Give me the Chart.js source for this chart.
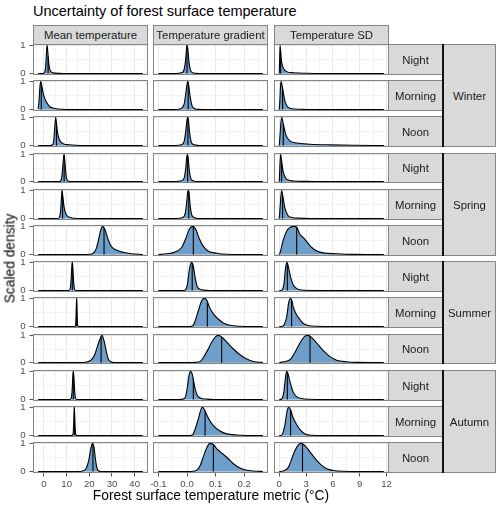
<!DOCTYPE html>
<html>
<head>
<meta charset="utf-8">
<script src="https://cdn.jsdelivr.net/npm/chart.js@4.4.1/dist/chart.umd.min.js"></script>
<style>
  body { margin: 0; background: #fff; font-family: "Liberation Sans", Arial, sans-serif; }
  #fig { position: relative; width: 500px; height: 510px; overflow: hidden; }
  #fig canvas { position: absolute; }
  .strip { position: absolute; box-sizing: border-box; background: #d9d9d9; border: 1px solid #858585;
           display: flex; align-items: center; justify-content: center; font-size: 11.4px; color: #1a1a1a; }
  .txt { position: absolute; white-space: nowrap; color: #000; font-weight: normal; }
</style>
</head>
<body>
<div id="fig"></div>
<script>
// facets
const metrics = ['Mean temperature', 'Temperature gradient', 'Temperature SD'];
const seasons = ['Winter', 'Spring', 'Summer', 'Autumn'];
const times = ['Night', 'Morning', 'Noon'];

// tick labels
const meanTicks = [0, 10, 20, 30, 40];
const meanMinor = [5, 15, 25, 35, 45];
const gradTicks = [-0.1, 0, 0.1, 0.2];
const gradMinor = [-0.05, 0.05, 0.15, 0.25];
const sdTicks = [0, 3, 6, 9, 12];
const sdMinor = [1.5, 4.5, 7.5, 10.5];
const densTicks = [0, 1];
const densMinor = [0.5];

// scaled density curves [x, y], rows: Winter Night..Autumn Noon
const meanCurves = [
  [[-2.55,0],[-0.5,0.005],[0.3,0.05],[0.8,0.3],[1.1,0.75],[1.35,1],[1.6,0.85],[1.9,0.55],[2.3,0.25],[2.8,0.1],[3.5,0.04],[5,0.015],[8,0.005],[12,0],[43.6,0]],
  [[-2.55,0.02],[-2.2,0.3],[-1.8,0.8],[-1.45,1],[-1.0,0.85],[-0.4,0.6],[0.3,0.4],[1.2,0.25],[2.6,0.1],[4.8,0.04],[8,0.01],[12,0],[43.6,0]],
  [[-2.55,0],[2.5,0],[3.8,0.03],[4.4,0.25],[4.8,0.7],[5.15,1],[5.5,0.8],[6.0,0.45],[6.6,0.25],[7.5,0.12],[8.7,0.06],[11,0.03],[14,0.01],[18,0],[43.6,0]],
  [[-2.55,0],[6.5,0],[7.4,0.03],[7.9,0.2],[8.4,0.65],[8.85,1],[9.3,0.65],[9.8,0.2],[10.4,0.04],[11.5,0.005],[14,0],[43.6,0]],
  [[-2.55,0],[5.8,0],[6.8,0.04],[7.4,0.35],[7.75,0.8],[7.95,1],[8.3,0.8],[8.8,0.45],[9.4,0.22],[10.2,0.1],[11.5,0.04],[13.5,0.01],[17,0],[43.6,0]],
  [[-2.55,0],[18,0],[20,0.01],[21.6,0.04],[23.1,0.22],[24.1,0.54],[25.0,0.85],[25.9,1],[27.1,0.85],[28.3,0.54],[29.7,0.29],[31.9,0.16],[34.9,0.08],[38.5,0.03],[43.6,0.005]],
  [[-2.55,0],[10.5,0],[11.4,0.03],[11.9,0.3],[12.25,0.8],[12.5,1],[12.75,0.8],[13.1,0.3],[13.6,0.03],[14.5,0],[43.6,0]],
  [[-2.55,0],[13.5,0],[13.95,0.05],[14.2,0.5],[14.4,1],[14.6,0.5],[14.85,0.05],[15.3,0],[43.6,0]],
  [[-2.55,0],[16,0],[18.7,0.02],[20.9,0.1],[22.4,0.3],[23.8,0.65],[25.0,0.92],[25.6,1],[26.5,0.8],[27.4,0.45],[28.3,0.14],[29.5,0.03],[31,0],[43.6,0]],
  [[-2.55,0],[11,0],[11.9,0.03],[12.4,0.3],[12.7,0.8],[12.95,1],[13.2,0.8],[13.55,0.3],[14.0,0.03],[15,0],[43.6,0]],
  [[-2.55,0],[12.2,0],[12.8,0.04],[13.1,0.4],[13.4,1],[13.7,0.4],[14.0,0.04],[14.6,0],[43.6,0]],
  [[-2.55,0],[15,0],[17,0.02],[18.5,0.1],[19.7,0.38],[20.6,0.78],[21.4,1],[22.1,0.85],[22.7,0.45],[23.3,0.15],[24.0,0.03],[25,0.005],[27,0],[43.6,0]]
];
const meanMedians = [1.8, -1.2, 5.5, 8.9, 8.2, 26.5, 12.5, 14.4, 25.2, 12.95, 13.4, 21.6];
const meanMedianTops = [0.6, 0.95, 0.85, 0.98, 0.8, 0.95, 1, 1, 0.96, 1, 1, 0.98];

const gradCurves = [
  [[-0.1,0],[-0.04,0.005],[-0.02,0.03],[-0.011,0.12],[-0.006,0.4],[-0.002,0.85],[0,1],[0.003,0.85],[0.007,0.4],[0.012,0.12],[0.02,0.03],[0.035,0.005],[0.06,0],[0.265,0]],
  [[-0.1,0],[-0.04,0.005],[-0.02,0.04],[-0.01,0.2],[-0.004,0.6],[0,0.9],[0.0025,1],[0.006,0.85],[0.011,0.45],[0.017,0.15],[0.025,0.04],[0.04,0.008],[0.07,0],[0.265,0]],
  [[-0.1,0],[-0.04,0.005],[-0.02,0.03],[-0.01,0.15],[-0.004,0.55],[0,0.92],[0.0025,1],[0.005,0.9],[0.009,0.45],[0.014,0.15],[0.022,0.04],[0.04,0.005],[0.07,0],[0.265,0]],
  [[-0.1,0],[-0.04,0.005],[-0.02,0.03],[-0.01,0.14],[-0.005,0.45],[-0.001,0.9],[0.001,1],[0.004,0.85],[0.008,0.4],[0.013,0.12],[0.021,0.03],[0.035,0.005],[0.06,0],[0.265,0]],
  [[-0.1,0],[-0.04,0.005],[-0.015,0.04],[-0.006,0.2],[-0.001,0.6],[0.002,0.92],[0.0045,1],[0.007,0.9],[0.011,0.45],[0.016,0.15],[0.024,0.04],[0.04,0.005],[0.07,0],[0.265,0]],
  [[-0.1,0],[-0.083,0.02],[-0.048,0.07],[-0.019,0.25],[-0.004,0.58],[0.008,0.9],[0.02,1],[0.031,0.89],[0.043,0.56],[0.057,0.29],[0.075,0.12],[0.104,0.05],[0.14,0.01],[0.18,0],[0.265,0]],
  [[-0.1,0],[-0.02,0],[-0.007,0.01],[0.001,0.2],[0.008,0.74],[0.015,1],[0.022,0.87],[0.028,0.47],[0.036,0.14],[0.046,0.04],[0.075,0.005],[0.11,0],[0.265,0]],
  [[-0.1,0],[0,0],[0.01,0.005],[0.02,0.03],[0.028,0.19],[0.04,0.58],[0.051,0.92],[0.06,1],[0.069,0.94],[0.078,0.7],[0.092,0.45],[0.11,0.26],[0.127,0.13],[0.15,0.05],[0.185,0.01],[0.22,0],[0.265,0]],
  [[-0.1,0],[0,0],[0.03,0.01],[0.046,0.04],[0.057,0.19],[0.071,0.44],[0.086,0.75],[0.101,0.96],[0.11,1],[0.121,0.94],[0.139,0.75],[0.162,0.5],[0.185,0.29],[0.209,0.13],[0.232,0.04],[0.265,0.01]],
  [[-0.1,0],[-0.03,0],[-0.009,0.04],[-0.001,0.3],[0.006,0.81],[0.012,1],[0.019,0.87],[0.026,0.49],[0.034,0.19],[0.046,0.06],[0.069,0.015],[0.1,0.003],[0.14,0],[0.265,0]],
  [[-0.1,0],[0,0],[0.01,0.005],[0.02,0.03],[0.028,0.22],[0.04,0.61],[0.049,0.94],[0.055,1],[0.063,0.87],[0.075,0.61],[0.092,0.35],[0.115,0.16],[0.139,0.06],[0.174,0.02],[0.21,0.005],[0.265,0]],
  [[-0.1,0],[0,0],[0.02,0.01],[0.034,0.05],[0.046,0.22],[0.057,0.53],[0.069,0.85],[0.08,1],[0.092,0.96],[0.104,0.81],[0.121,0.66],[0.139,0.51],[0.162,0.28],[0.185,0.13],[0.209,0.05],[0.244,0.01],[0.265,0.005]]
];
const gradMedians = [0, 0.004, 0.003, 0.002, 0.006, 0.022, 0.018, 0.071, 0.121, 0.022, 0.063, 0.092];
const gradMedianTops = [1, 0.97, 0.99, 0.98, 0.97, 1, 0.97, 0.9, 0.94, 0.75, 0.87, 0.96];

const sdCurves = [
  [[0,0],[0.04,0.5],[0.09,1],[0.19,0.6],[0.3,0.35],[0.45,0.2],[0.82,0.07],[1.57,0.03],[3,0.01],[5,0],[11.7,0]],
  [[0,0],[0.06,0.3],[0.19,1],[0.37,0.75],[0.63,0.3],[1.0,0.08],[1.75,0.02],[3,0.005],[5,0],[11.7,0]],
  [[0,0],[0.08,0.35],[0.26,1],[0.45,0.77],[0.75,0.37],[1.2,0.17],[1.95,0.09],[3.44,0.05],[5.68,0.025],[8.3,0.01],[11.7,0.003]],
  [[0,0],[0.05,0.4],[0.15,1],[0.28,0.7],[0.45,0.35],[0.7,0.13],[1.0,0.06],[1.6,0.025],[3,0.008],[5,0],[11.7,0]],
  [[0,0],[0.08,0.35],[0.26,1],[0.42,0.75],[0.65,0.35],[0.95,0.12],[1.4,0.04],[2.2,0.015],[4,0.003],[6,0],[11.7,0]],
  [[0,0],[0.1,0.08],[0.45,0.52],[0.83,0.84],[1.2,0.96],[1.65,1],[1.95,0.97],[2.3,0.72],[2.7,0.6],[3.1,0.45],[3.6,0.26],[4.2,0.13],[4.9,0.06],[6.4,0.03],[8.3,0.008],[11.7,0]],
  [[0,0],[0.27,0.01],[0.53,0.25],[0.72,0.85],[0.87,1],[1.05,0.8],[1.27,0.47],[1.57,0.2],[1.94,0.07],[2.5,0.02],[4,0.005],[6,0],[11.7,0]],
  [[0,0],[0.3,0.005],[0.53,0.06],[0.83,0.34],[1.05,0.84],[1.27,1],[1.42,0.9],[1.57,0.69],[1.87,0.46],[2.24,0.28],[2.69,0.11],[3.25,0.04],[4.19,0.01],[6,0],[11.7,0]],
  [[0,0],[0.45,0.03],[1.2,0.11],[1.76,0.38],[2.32,0.72],[2.88,0.97],[3.25,1],[3.63,0.92],[4.19,0.72],[4.93,0.44],[5.68,0.22],[6.42,0.09],[7.54,0.03],[8.66,0.008],[11.7,0]],
  [[0,0],[0.27,0.02],[0.53,0.31],[0.68,0.75],[0.83,1],[1.01,0.88],[1.2,0.63],[1.5,0.31],[1.87,0.12],[2.5,0.04],[3.44,0.01],[5,0],[11.7,0]],
  [[0,0],[0.2,0.005],[0.37,0.06],[0.63,0.37],[0.9,0.91],[1.08,1],[1.27,0.91],[1.5,0.67],[1.87,0.43],[2.32,0.21],[2.88,0.06],[3.63,0.01],[5,0],[11.7,0]],
  [[0,0],[0.45,0.02],[1.01,0.15],[1.39,0.45],[1.76,0.75],[2.13,0.95],[2.43,1],[2.69,0.97],[3.07,0.85],[3.63,0.62],[4.19,0.4],[4.75,0.22],[5.31,0.1],[6.06,0.04],[7.18,0.01],[9,0],[11.7,0]]
];
const sdMedians = [0.15, 0.37, 0.45, 0.26, 0.37, 1.95, 0.9, 1.38, 3.44, 0.9, 1.27, 2.6];
const sdMedianTops = [0.8, 0.75, 0.77, 0.76, 0.85, 0.97, 0.98, 0.93, 0.97, 0.95, 0.91, 0.98];

const columns = [
  { curves: meanCurves, medians: meanMedians, tops: meanMedianTops, min: -4.85, max: 45.9, major: meanTicks, minor: meanMinor, fmt: v => String(v) },
  { curves: gradCurves, medians: gradMedians, tops: gradMedianTops, min: -0.119, max: 0.283, major: gradTicks, minor: gradMinor, fmt: v => v.toFixed(1) },
  { curves: sdCurves, medians: sdMedians, tops: sdMedianTops, min: -0.59, max: 12.28, major: sdTicks, minor: sdMinor, fmt: v => String(v) }
];

Chart.defaults.font.family = '"Liberation Sans", Arial, sans-serif';

const FILL = 'rgb(110,158,202)';
const FRAME = '#858585';
const GRID_MAJOR = '#e8e8e8';
const GRID_MINOR = '#f3f3f3';
const TICK_TXT = '#4d4d4d';
const TICK_MARK = '#555555';

// panel boxes
const colLeft = c => Math.round(32.5 + c * 120.7);
const colRight = c => Math.round(147.7 + c * 120.7);
const rowTop = r => Math.round(44 + r * 36.21);
const rowBottom = r => Math.round(74.71 + r * 36.21);

const fig = document.getElementById('fig');

// draws the grey panel border on top
const frame = {
  id: 'frame',
  afterDraw(chart) {
    const { left, top, right, bottom } = chart.chartArea;
    const g = chart.ctx;
    g.save();
    g.strokeStyle = FRAME;
    g.lineWidth = 1;
    g.strokeRect(left + 0.5, top + 0.5, right - left - 1, bottom - top - 1);
    g.restore();
  }
};

function makePanel(r, c) {
  const col = columns[c];
  const showY = c === 0, showX = r === 11;
  const AX = 20;
  const m = {
    l: showY ? AX : (showX ? 10 : 0),
    r: showX ? 10 : 0,
    t: showY ? 6 : 0,
    b: showX ? AX : (showY ? 6 : 0)
  };
  const w = colRight(c) - colLeft(c), h = rowBottom(r) - rowTop(r);
  const cv = document.createElement('canvas');
  cv.width = w + m.l + m.r;
  cv.height = h + m.t + m.b;
  cv.style.left = (colLeft(c) - m.l) + 'px';
  cv.style.top = (rowTop(r) - m.t) + 'px';
  cv.style.width = cv.width + 'px';
  cv.style.height = cv.height + 'px';
  fig.appendChild(cv);

  const xAll = col.major.concat(col.minor).filter(v => v >= col.min && v <= col.max);
  const yAll = densTicks.concat(densMinor);

  new Chart(cv, {
    type: 'line',
    data: {
      datasets: [
        {
          // median line, drawn on top of the filled curve
          order: 0,
          data: [{ x: col.medians[r], y: 0 }, { x: col.medians[r], y: col.tops[r] }],
          borderColor: '#000', borderWidth: 1.1, pointRadius: 0, fill: false, tension: 0
        },
        {
          order: 1,
          data: col.curves[r].map(p => ({ x: p[0], y: p[1] })),
          borderColor: '#000', borderWidth: 1.1, backgroundColor: FILL,
          fill: 'origin', pointRadius: 0, cubicInterpolationMode: 'monotone'
        }
      ]
    },
    options: {
      responsive: false, animation: false, events: [],
      layout: { padding: { left: m.l - (showY ? AX : 0), right: m.r, top: m.t, bottom: m.b - (showX ? AX : 0) } },
      plugins: { legend: { display: false }, tooltip: { enabled: false } },
      scales: {
        x: {
          type: 'linear', min: col.min, max: col.max,
          afterBuildTicks: s => { s.ticks = xAll.map(v => ({ value: v })); },
          afterFit: s => { s.height = showX ? AX : 0; s.paddingLeft = 0; s.paddingRight = 0; s.paddingTop = 0; s.paddingBottom = 0; },
          border: { display: false },
          grid: {
            color: ctx => col.major.includes(ctx.tick.value) ? GRID_MAJOR : GRID_MINOR,
            drawTicks: showX, tickLength: 3.5,
            tickColor: ctx => col.major.includes(ctx.tick.value) ? TICK_MARK : 'rgba(0,0,0,0)'
          },
          ticks: {
            display: showX, autoSkip: false, maxRotation: 0, padding: 2,
            color: TICK_TXT, font: { size: 9.6 },
            callback: v => col.major.includes(v) ? col.fmt(v) : ''
          }
        },
        y: {
          type: 'linear', min: -0.05, max: 1.05,
          afterBuildTicks: s => { s.ticks = yAll.map(v => ({ value: v })); },
          afterFit: s => { s.width = showY ? AX : 0; s.paddingLeft = 0; s.paddingRight = 0; s.paddingTop = 0; s.paddingBottom = 0; },
          border: { display: false },
          grid: {
            color: ctx => densTicks.includes(ctx.tick.value) ? GRID_MAJOR : GRID_MINOR,
            drawTicks: showY, tickLength: 3.5,
            tickColor: ctx => densTicks.includes(ctx.tick.value) ? TICK_MARK : 'rgba(0,0,0,0)'
          },
          ticks: {
            display: showY, autoSkip: false, padding: 4,
            color: TICK_TXT, font: { size: 9.6 },
            callback: v => densTicks.includes(v) ? String(v) : ''
          }
        }
      }
    },
    plugins: [frame]
  });
}

for (let r = 0; r < 12; r++) for (let c = 0; c < 3; c++) makePanel(r, c);

function box(cls, left, top, width, height, text) {
  const d = document.createElement('div');
  d.className = cls;
  Object.assign(d.style, { left: left + 'px', top: top + 'px', width: width + 'px', height: height + 'px' });
  if (text) d.textContent = text;
  fig.appendChild(d);
  return d;
}

// column strips
metrics.forEach((t, c) => box('strip', colLeft(c), 25, colRight(c) - colLeft(c), 20, t));

// row strips + season strips
for (let r = 0; r < 12; r++) box('strip', 388, rowTop(r), 55, rowBottom(r) - rowTop(r), times[r % 3]);
seasons.forEach((s, i) => {
  const t = rowTop(i * 3), b = rowBottom(i * 3 + 2);
  box('strip', 443, t, 53, b - t, s);
  const line = box('', 442, t, 2, b - t);
  line.style.position = 'absolute';
  line.style.background = '#111';
});

// titles
const title = box('txt', 33, 2, 400, 18, 'Uncertainty of forest surface temperature');
title.style.fontSize = '14.5px'; title.style.lineHeight = '18px';

const xt = box('txt', colLeft(0), 487, colRight(2) - colLeft(0), 17, 'Forest surface temperature metric (°C)');
xt.style.fontSize = '13.8px'; xt.style.lineHeight = '17px'; xt.style.textAlign = 'center';

const yt = box('txt', 10 - 100, 258.5 - 8.5, 200, 17, 'Scaled density');
yt.style.fontSize = '13.8px'; yt.style.lineHeight = '17px'; yt.style.textAlign = 'center';
yt.style.transform = 'rotate(-90deg)';
</script>
</body>
</html>
